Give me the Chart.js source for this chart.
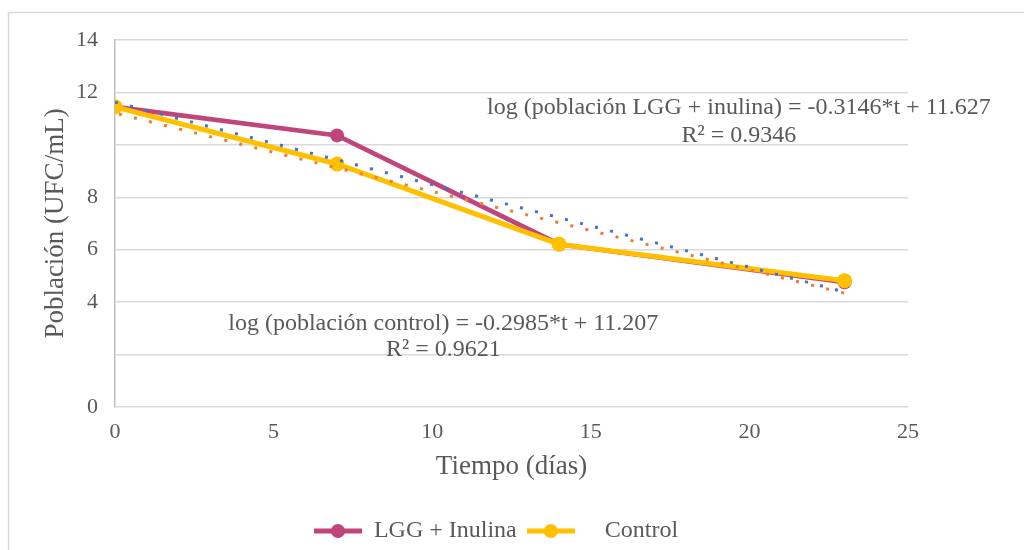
<!DOCTYPE html>
<html>
<head>
<meta charset="utf-8">
<script src="https://cdn.jsdelivr.net/npm/chart.js@4"></script>
<style>
html,body{margin:0;padding:0;background:#fff;}
#wrap{width:1024px;height:550px;}
</style>
</head>
<body>
<div id="wrap"><canvas id="grafico" width="1024" height="550"></canvas></div>
<script>
// datos
const tiempos = [0, 7, 14, 23];
const lggInulina = [11.45, 10.36, 6.21, 4.76];
const control = [11.45, 9.27, 6.21, 4.82];

// extremos de las líneas de tendencia
const tendTiempos = [0, 23];
const tendLgg = [11.63, 4.39];
const tendControl = [11.21, 4.34];

const ticksOcultos = [2, 10];

const fuente = "'Liberation Serif', 'Times New Roman', serif";
const gris = "#595959";

const rosa = "#c0457a";
const amarillo = "#ffc000";

function puntos(xs, ys){
  return xs.map((x,i)=>({x:x, y:ys[i]}));
}

function marcador(color){
  const c = document.createElement("canvas");
  c.width = 48; c.height = 16;
  const g = c.getContext("2d");
  g.strokeStyle = color;
  g.lineWidth = 5;
  g.beginPath(); g.moveTo(0,8); g.lineTo(48,8); g.stroke();
  g.fillStyle = color;
  g.beginPath(); g.arc(24,8,7,0,Math.PI*2); g.fill();
  return c;
}

const marcadores = {"LGG + Inulina":marcador(rosa), "Control":marcador(amarillo)};

const marco = {
  id:"marco",
  beforeDraw(chart){
    const g = chart.ctx;
    g.save();
    g.strokeStyle = "#d9d9d9";
    g.lineWidth = 1.5;
    g.strokeRect(8.5, 12.5, 1100, 700);
    g.restore();
  }
};

const ecuaciones = {
  id:"ecuaciones",
  afterDatasetsDraw(chart){
    const g = chart.ctx;
    const sx = chart.scales.x, sy = chart.scales.y;
    g.save();
    g.font = "24px " + fuente;
    g.fillStyle = gris;
    g.textAlign = "center";
    g.textBaseline = "middle";
    let x = sx.getPixelForValue(19.67), y = sy.getPixelForValue(11.4);
    g.fillText("log (población LGG + inulina) = -0.3146*t + 11.627", x, y);
    g.fillText("R² = 0.9346", x, y + 28);
    x = sx.getPixelForValue(10.35); y = sy.getPixelForValue(3.19);
    g.fillText("log (población control) = -0.2985*t + 11.207", x, y);
    g.fillText("R² = 0.9621", x, y + 26);
    g.restore();
  }
};

const ctx = document.getElementById("grafico");

new Chart(ctx,{
  type:"line",
  data:{
    datasets:[
      {
        label:"Tendencia LGG",
        data:puntos(tendTiempos, tendLgg),
        borderColor:"#4472c4",
        borderWidth:3,
        borderDash:[3,12.5],
        borderCapStyle:"butt",
        pointRadius:0,
        order:0
      },
      {
        label:"Tendencia control",
        data:puntos(tendTiempos, tendControl),
        borderColor:"#ed7d31",
        borderWidth:3,
        borderDash:[3,12.5],
        borderDashOffset:-4,
        borderCapStyle:"butt",
        pointRadius:0,
        order:0
      },
      {
        label:"LGG + Inulina",
        data:puntos(tiempos, lggInulina),
        borderColor:rosa,
        backgroundColor:rosa,
        borderWidth:4.7,
        pointRadius:7,
        pointBorderWidth:0,
        pointStyle:"circle",
        order:2
      },
      {
        label:"Control",
        data:puntos(tiempos, control),
        borderColor:amarillo,
        backgroundColor:amarillo,
        borderWidth:5,
        pointRadius:7.5,
        pointBorderWidth:0,
        pointStyle:"circle",
        order:1
      }
    ]
  },
  options:{
    responsive:false,
    animation:false,
    layout:{padding:{left:0, right:32, top:40, bottom:-3}},
    elements:{line:{tension:0}},
    plugins:{
      tooltip:{enabled:false},
      legend:{
        position:"bottom",
        labels:{
          usePointStyle:true,
          pointStyleWidth:48,
          boxHeight:16,
          padding:10,
          color:gris,
          font:{family:fuente, size:24},
          filter:item=>!item.text.startsWith("Tendencia"),
          sort:(a,b)=>a.datasetIndex-b.datasetIndex,
          generateLabels(chart){
            const base = Chart.defaults.plugins.legend.labels.generateLabels(chart);
            base.forEach(it=>{
              if(marcadores[it.text]) it.pointStyle = marcadores[it.text];
              if(it.text === "Control") it.text = "   Control";
            });
            return base;
          }
        }
      }
    },
    scales:{
      x:{
        type:"linear",
        min:0, max:25,
        afterFit:s=>{ s.height = 102; },
        ticks:{stepSize:5, color:gris, padding:12, font:{family:fuente, size:22}},
        grid:{display:false, drawTicks:false},
        border:{display:false},
        title:{display:true, text:"Tiempo (días)", color:gris, font:{family:fuente, size:27}, padding:{top:0, bottom:26}}
      },
      y:{
        min:0, max:14,
        afterFit:s=>{ s.width = 115; },
        ticks:{
          stepSize:2, color:gris, padding:17, font:{family:fuente, size:22},
          callback:v=>ticksOcultos.includes(v) ? "" : v
        },
        grid:{color:"#d9d9d9", lineWidth:1.5, drawTicks:false},
        border:{display:true, color:"#bfbfbf", width:1.5},
        title:{display:true, text:"Población (UFC/mL)", color:gris, font:{family:fuente, size:27}, padding:{top:40, bottom:0}}
      },
      derecha:{
        position:"right",
        display:true,
        afterFit:s=>{ s.width = 84; },
        ticks:{display:false},
        grid:{display:false, drawTicks:false},
        border:{display:false}
      }
    }
  },
  plugins:[marco, ecuaciones]
});
</script>
</body>
</html>
